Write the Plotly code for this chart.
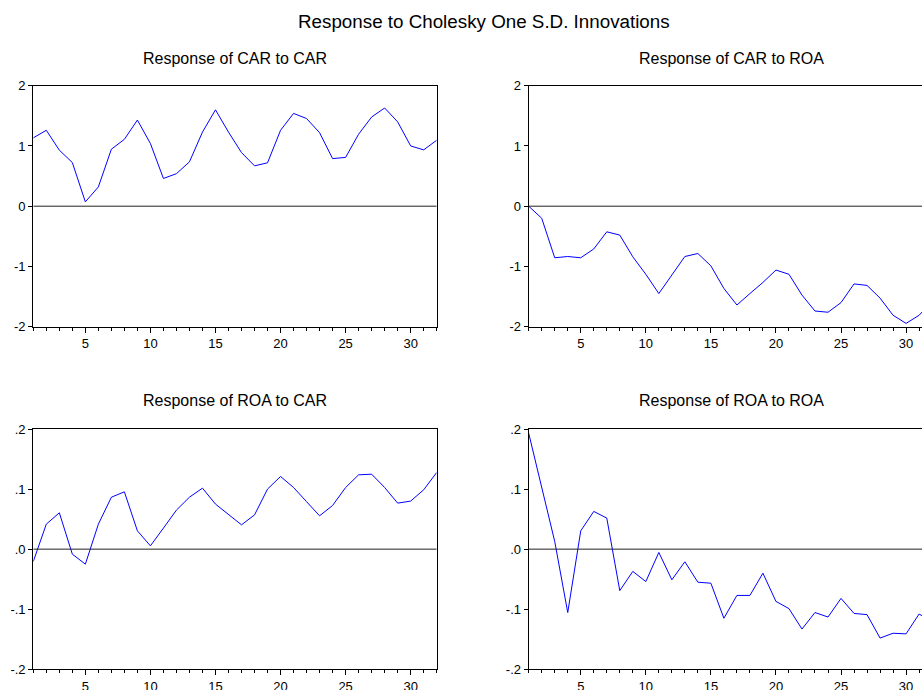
import plotly.graph_objects as go

periods = list(range(1, 33))

car_to_car = [1.134, 1.26, 0.93, 0.725, 0.072, 0.32, 0.946, 1.11, 1.43, 1.04,
              0.46, 0.54, 0.736, 1.23, 1.60, 1.23, 0.89, 0.67, 0.72, 1.26,
              1.54, 1.455, 1.22, 0.79, 0.81, 1.195, 1.48, 1.63, 1.40, 1.00,
              0.935, 1.095]

car_to_roa = [0.0, -0.20, -0.856, -0.835, -0.856, -0.71, -0.425, -0.48, -0.84, -1.13,
              -1.45, -1.14, -0.835, -0.785, -0.99, -1.365, -1.64, -1.45, -1.265, -1.06,
              -1.13, -1.475, -1.74, -1.76, -1.60, -1.29, -1.315, -1.525, -1.81, -1.945,
              -1.81, -1.58]

roa_to_car = [-0.0205, 0.0416, 0.0605, -0.0083, -0.025, 0.0416, 0.0865, 0.0954, 0.0305, 0.0055,
              0.035, 0.065, 0.0865, 0.1015, 0.075, 0.058, 0.0405, 0.057, 0.100, 0.121,
              0.1026, 0.079, 0.0555, 0.0727, 0.1026, 0.1237, 0.1248, 0.1026, 0.0766, 0.080,
              0.0988, 0.1276]

roa_to_roa = [0.193, 0.104, 0.0128, -0.1055, 0.0305, 0.0628, 0.0517, -0.069, -0.037, -0.054,
              -0.0055, -0.051, -0.021, -0.055, -0.0567, -0.115, -0.077, -0.077, -0.040, -0.087,
              -0.099, -0.133, -0.1055, -0.113, -0.082, -0.107, -0.109, -0.148, -0.140, -0.141,
              -0.108, -0.12]

main_title = "Response to Cholesky One S.D. Innovations"
panel_titles = ["Response of CAR to CAR", "Response of CAR to ROA",
                "Response of ROA to CAR", "Response of ROA to ROA"]
top_ticks = [-2, -1, 0, 1, 2]
top_tick_text = ["-2", "-1", "0", "1", "2"]
bot_ticks = [-0.2, -0.1, 0.0, 0.1, 0.2]
bot_tick_text = ["-.2", "-.1", ".0", ".1", ".2"]
x_major = [5, 10, 15, 20, 25, 30]

W, H = 922, 690
FONT = "Liberation Sans, Arial, sans-serif"

# pixel geometry
left_x = (33.3 / W, 436.7 / W)
right_x = (528.7 / W, 1.0)
px_per_unit = (436.7 - 33.3) / 31
right_xmax = 1 + (W - 528.7) / px_per_unit
top_y = (1 - 326.7 / H, 1 - 85.7 / H)
bot_y = (1 - 669.3 / H, 1 - 429.0 / H)

fig = go.Figure()

panels = [
    (car_to_car, "x", "y", left_x, top_y, top_ticks, top_tick_text, [-2, 2], [1, 32], True),
    (car_to_roa, "x2", "y2", right_x, top_y, top_ticks, top_tick_text, [-2, 2], [1, right_xmax], False),
    (roa_to_car, "x3", "y3", left_x, bot_y, bot_ticks, bot_tick_text, [-0.2, 0.2], [1, 32], True),
    (roa_to_roa, "x4", "y4", right_x, bot_y, bot_ticks, bot_tick_text, [-0.2, 0.2], [1, right_xmax], False),
]

layout_axes = {}
for i, (vals, xa, ya, xd, yd, yt, ytt, yr, xr, mirror_y) in enumerate(panels):
    fig.add_trace(go.Scatter(x=periods, y=vals, mode="lines", xaxis=xa, yaxis=ya,
                             line=dict(color="#0000FF", width=1), showlegend=False,
                             hoverinfo="skip"))
    fig.add_trace(go.Scatter(x=[xr[0], xr[1]], y=[0, 0], mode="lines", xaxis=xa, yaxis=ya,
                             line=dict(color="#222222", width=1), showlegend=False,
                             hoverinfo="skip"))
    xkey = "xaxis" if i == 0 else f"xaxis{i+1}"
    ykey = "yaxis" if i == 0 else f"yaxis{i+1}"
    layout_axes[xkey] = dict(
        domain=list(xd), range=xr, anchor=ya, showgrid=False, zeroline=False,
        showline=True, linecolor="#000000", linewidth=1.2, mirror=True,
        tickmode="array", tickvals=x_major, ticks="outside", ticklen=5,
        tickcolor="#000000", tickwidth=1,
        minor=dict(tickmode="linear", tick0=1, dtick=1, ticks="outside", ticklen=3,
                   tickcolor="#000000", tickwidth=1, showgrid=False),
        tickfont=dict(family=FONT, size=13, color="#000000"),
        fixedrange=True, automargin=False,
    )
    layout_axes[ykey] = dict(
        domain=list(yd), range=yr, anchor=xa, showgrid=False, zeroline=False,
        showline=True, linecolor="#000000", linewidth=1.2, mirror=mirror_y,
        tickmode="array", tickvals=yt, ticktext=ytt, ticks="outside", ticklen=4,
        tickcolor="#000000", tickwidth=1,
        tickfont=dict(family=FONT, size=13, color="#000000"),
        fixedrange=True, automargin=False,
    )

def ann(text, xp, yp, size):
    return dict(text=text, x=xp / W, y=1 - yp / H, xref="paper", yref="paper",
                showarrow=False, xanchor="center", yanchor="middle",
                font=dict(family=FONT, size=size, color="#000000"))

annotations = [
    ann(main_title, 484, 21, 18.8),
    ann(panel_titles[0], 235, 58, 16),
    ann(panel_titles[1], 731, 58, 16),
    ann(panel_titles[2], 235, 400, 16),
    ann(panel_titles[3], 731, 400, 16),
]

fig.update_layout(
    width=W, height=H,
    margin=dict(l=0, r=0, t=0, b=0, pad=0),
    paper_bgcolor="#FFFFFF", plot_bgcolor="#FFFFFF",
    annotations=annotations,
    **layout_axes,
)

fig.write_html("out.html", config={"responsive": False, "displayModeBar": False},
               post_script="document.body.style.margin='0';document.body.style.overflow='hidden';")
